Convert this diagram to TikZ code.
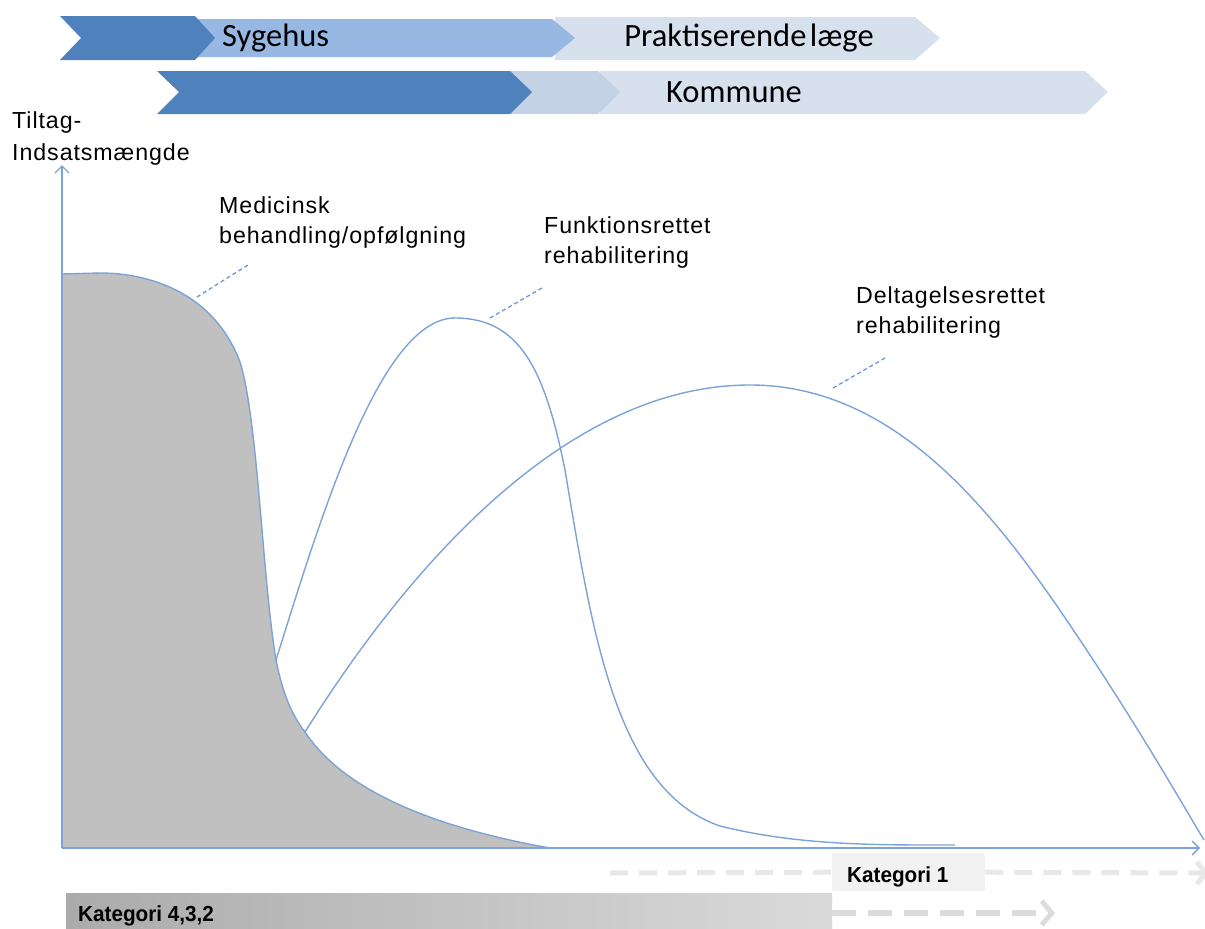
\documentclass[tikz,border=0pt]{standalone}
\usepackage{fontspec}
\setmainfont{Liberation Sans}
\newfontfamily\chevfont{Carlito}
\newfontfamily\labelfont[LetterSpace=4]{Liberation Sans}
\newfontfamily\katfont[FakeStretch=0.95]{Liberation Sans}
\usetikzlibrary{arrows.meta}

\definecolor{darkchev}{HTML}{4F81BD}
\definecolor{midchev}{HTML}{98B8E4}
\definecolor{palechev}{HTML}{D7E0ED}
\definecolor{greychev}{HTML}{C4D2E6}
\definecolor{axisblue}{HTML}{7BA3D8}
\definecolor{areagrey}{HTML}{C0C0C0}
\definecolor{dashlight}{HTML}{E8E8E8}
\definecolor{dashmid}{HTML}{DCDCDC}
\definecolor{katfill}{HTML}{F1F1F1}
\definecolor{barleft}{HTML}{ABABAB}
\definecolor{barright}{HTML}{DADADA}

\tikzset{
  axisline/.style={draw=axisblue, line width=1.4pt},
  curveline/.style={draw=axisblue, line width=1.4pt},
  leader/.style={draw=axisblue!90!blue, line width=1.3pt, dash pattern=on 4pt off 3pt},
  chevtext/.style={font=\chevfont\fontsize{32.5}{36}\selectfont, text=black, inner sep=0pt},
  curvelabel/.style={font=\labelfont\fontsize{23.2}{30}\selectfont, text=black, inner sep=0pt, anchor=base west},
  kattext/.style={font=\katfont\bfseries\fontsize{21.8}{24}\selectfont, text=black, inner sep=0pt, anchor=base west},
  opentip/.style={-{Straight Barb[length=7pt,width=14pt]}},
}

\begin{document}
\begin{tikzpicture}[x=1pt,y=-1pt]
\useasboundingbox (0,0) rectangle (1205,929);

% ---- provider chevrons, first row ----
\fill[palechev] (555,17) -- (915,17) -- (940,38) -- (915,60) -- (555,60) -- cycle;
\fill[midchev] (195,19) -- (552,19) -- (575,38) -- (552,57) -- (195,57) -- cycle;
\fill[darkchev] (60,16) -- (195,16) -- (215,38) -- (195,60) -- (60,60) -- (81,38) -- cycle;
\node[chevtext, anchor=west] (sygehus) at (222,38) {Sygehus};
\node[chevtext] (praktiserende) at (749,38) {Praktiserende\hspace{-0.12em} læge};

% ---- provider chevrons, second row ----
\fill[palechev] (600,71) -- (1085,71) -- (1108,92) -- (1085,114) -- (600,114) -- cycle;
\fill[greychev] (510,71) -- (598,71) -- (620,92) -- (598,114) -- (510,114) -- cycle;
\fill[darkchev] (157,71) -- (510,71) -- (532,92) -- (510,114) -- (157,114) -- (179,92) -- cycle;
\node[chevtext] (kommune) at (734,92) {Kommune};

% ---- axis title ----
\node[curvelabel] (ytitle1) at (12,128) {Tiltag-};
\node[curvelabel] (ytitle2) at (12,160) {Indsatsmængde};

% ---- key points on the curves ----
\coordinate (m0) at (62,274);
\coordinate (m1) at (100,273);
\coordinate (m2) at (240,362);
\coordinate (f0) at (276,660);
\coordinate (d0) at (305,732);
\coordinate (mend) at (550,848);
\coordinate (fpeak) at (455,318);
\coordinate (fmid) at (565,470);
\coordinate (flow) at (720,826);
\coordinate (fend) at (955,845);
\coordinate (dpeak) at (750,385);
\coordinate (dmid) at (1080,640);
\coordinate (dend) at (1204,840);

% ---- medical treatment area ----
\fill[areagrey] (62,848) -- (m0) -- (m1)
  .. controls (150,273) and (214,293) .. (m2)
  .. controls (258,420) and (262,575) .. (f0)
  .. controls (283,695) and (292,715) .. (d0)
  .. controls (340,785) and (420,825) .. (mend) -- cycle;
\draw[curveline] (m0) -- (m1)
  .. controls (150,273) and (214,293) .. (m2)
  .. controls (258,420) and (262,575) .. (f0)
  .. controls (283,695) and (292,715) .. (d0)
  .. controls (340,785) and (420,825) .. (mend);

% ---- function-oriented rehabilitation ----
\draw[curveline] (f0)
  .. controls (320,520) and (380,318) .. (fpeak)
  .. controls (520,318) and (545,370) .. (fmid)
  .. controls (592,630) and (615,790) .. (flow)
  .. controls (800,846) and (880,845) .. (fend);

% ---- participation-oriented rehabilitation ----
\draw[curveline] (d0)
  .. controls (400,580) and (560,385) .. (dpeak)
  .. controls (900,385) and (1000,520) .. (dmid)
  .. controls (1140,730) and (1180,800) .. (dend);

% ---- axes ----
\coordinate (origin) at (62,848);
\coordinate (ytop) at (62,165);
\coordinate (xend) at (1200,848);
\draw[axisline, opentip] (origin) -- (ytop);
\draw[axisline, opentip] (origin) -- (xend);

% ---- curve labels with leaders ----
\node[curvelabel] (med1) at (219,213) {Medicinsk};
\node[curvelabel] (med2) at (219,243) {behandling/opfølgning};
\node[curvelabel] (fun1) at (544,233) {Funktionsrettet};
\node[curvelabel] (fun2) at (544,263) {rehabilitering};
\node[curvelabel] (del1) at (856,303) {Deltagelsesrettet};
\node[curvelabel] (del2) at (856,333) {rehabilitering};

\coordinate (medA) at (197,297);
\coordinate (medB) at (248,265);
\coordinate (funA) at (490,318);
\coordinate (funB) at (542,288);
\coordinate (delA) at (833,388);
\coordinate (delB) at (885,358);
\draw[leader] (medA) -- (medB);
\draw[leader] (funA) -- (funB);
\draw[leader] (delA) -- (delB);

% ---- categories ----
\node[fill=katfill, minimum width=153pt, minimum height=38pt, inner sep=0pt, anchor=north west] (kat1) at (832,853) {};
\node[kattext] (kat1text) at (847,882) {Kategori 1};
\coordinate (kat1start) at (610,873);
\coordinate (kat1end) at (1209,873);
\draw[dashlight, line width=5pt, dash pattern=on 18pt off 11pt] (kat1start) -- (kat1.west);
\draw[dashlight, line width=5pt, dash pattern=on 18pt off 11pt, -{Straight Barb[length=9pt,width=22pt,line width=5pt]}] (kat1.east) -- (kat1end);

\shade[left color=barleft, right color=barright] (66,893) rectangle (832,929);
\coordinate (kat432end) at (832,913);
\coordinate (kat432tip) at (1055,913);
\node[kattext] (kat432text) at (78,921) {Kategori 4,3,2};
\draw[dashmid, line width=6pt, dash pattern=on 24pt off 12pt, -{Straight Barb[length=10pt,width=24pt,line width=5pt]}] (kat432end) -- (kat432tip);
\end{tikzpicture}
\end{document}
